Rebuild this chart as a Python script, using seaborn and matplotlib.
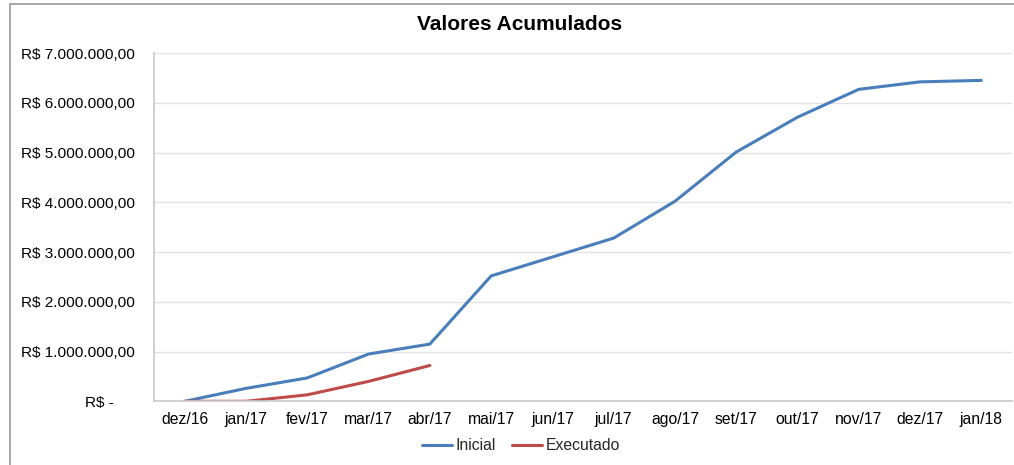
import pandas as pd
import matplotlib.pyplot as plt
import seaborn as sns
from matplotlib.ticker import FuncFormatter
from matplotlib.patches import Rectangle

# data
meses = ['dez/16', 'jan/17', 'fev/17', 'mar/17', 'abr/17', 'mai/17', 'jun/17',
         'jul/17', 'ago/17', 'set/17', 'out/17', 'nov/17', 'dez/17', 'jan/18']
inicial = [0, 260000, 470000, 950000, 1150000, 2520000, 2900000,
           3280000, 4020000, 5010000, 5710000, 6270000, 6420000, 6450000]
executado = [0, 0, 130000, 400000, 720000]

df = pd.DataFrame({'mes': meses + meses[:len(executado)],
                   'valor': inicial + executado,
                   'serie': ['Inicial'] * len(inicial) + ['Executado'] * len(executado)})

sns.set_style('white')
plt.rcParams['font.family'] = ['Liberation Sans', 'DejaVu Sans']

fig = plt.figure(figsize=(10.14, 4.65), dpi=100)
ax = fig.add_axes([0.152, 0.137, 0.846, 0.749])

sns.lineplot(data=df, x='mes', y='valor', hue='serie', sort=False,
             palette={'Inicial': '#4a7ebb', 'Executado': '#be4b48'},
             linewidth=2.2, ax=ax)

ax.set_xlim(-0.5, len(meses) - 0.5)
ax.set_ylim(0, 7000000)
ax.set_yticks(range(0, 7000001, 1000000))

def reais(v, pos):
    if v == 0:
        return 'R$ -     '
    return 'R$ ' + f'{v:,.2f}'.replace(',', 'X').replace('.', ',').replace('X', '.')

ax.yaxis.set_major_formatter(FuncFormatter(reais))
ax.grid(axis='y', color='#e3e3e3', linewidth=1)
ax.tick_params(axis='y', length=5, color='#bbbbbb', labelsize=11.1, pad=9, labelcolor='black')
ax.tick_params(axis='x', length=0, labelsize=11.3, pad=8, labelcolor='black')
for s in ['top', 'right']:
    ax.spines[s].set_visible(False)
for s in ['left', 'bottom']:
    ax.spines[s].set_color('#c8c8c8')
    ax.spines[s].set_linewidth(1.2)
ax.set_xlabel('')
ax.set_ylabel('')

fig.text(0.512, 0.948, 'Valores Acumulados', fontsize=15, fontweight='bold',
         ha='center', va='center', color='black')

handles, labels = ax.get_legend_handles_labels()
ax.get_legend().remove()
fig.legend(handles, labels, loc='center', bbox_to_anchor=(0.514, 0.041), ncol=2,
           frameon=False, prop={'size': 11.3}, handlelength=1.9, handletextpad=0.25,
           columnspacing=1.0)

fig.patches.append(Rectangle((10 / 1014, -0.05), 1.1, 1 - 4 / 465 + 0.05,
                             transform=fig.transFigure, fill=False,
                             edgecolor='#9a9a9a', linewidth=1.2))

fig.savefig('out.png', dpi=100)
